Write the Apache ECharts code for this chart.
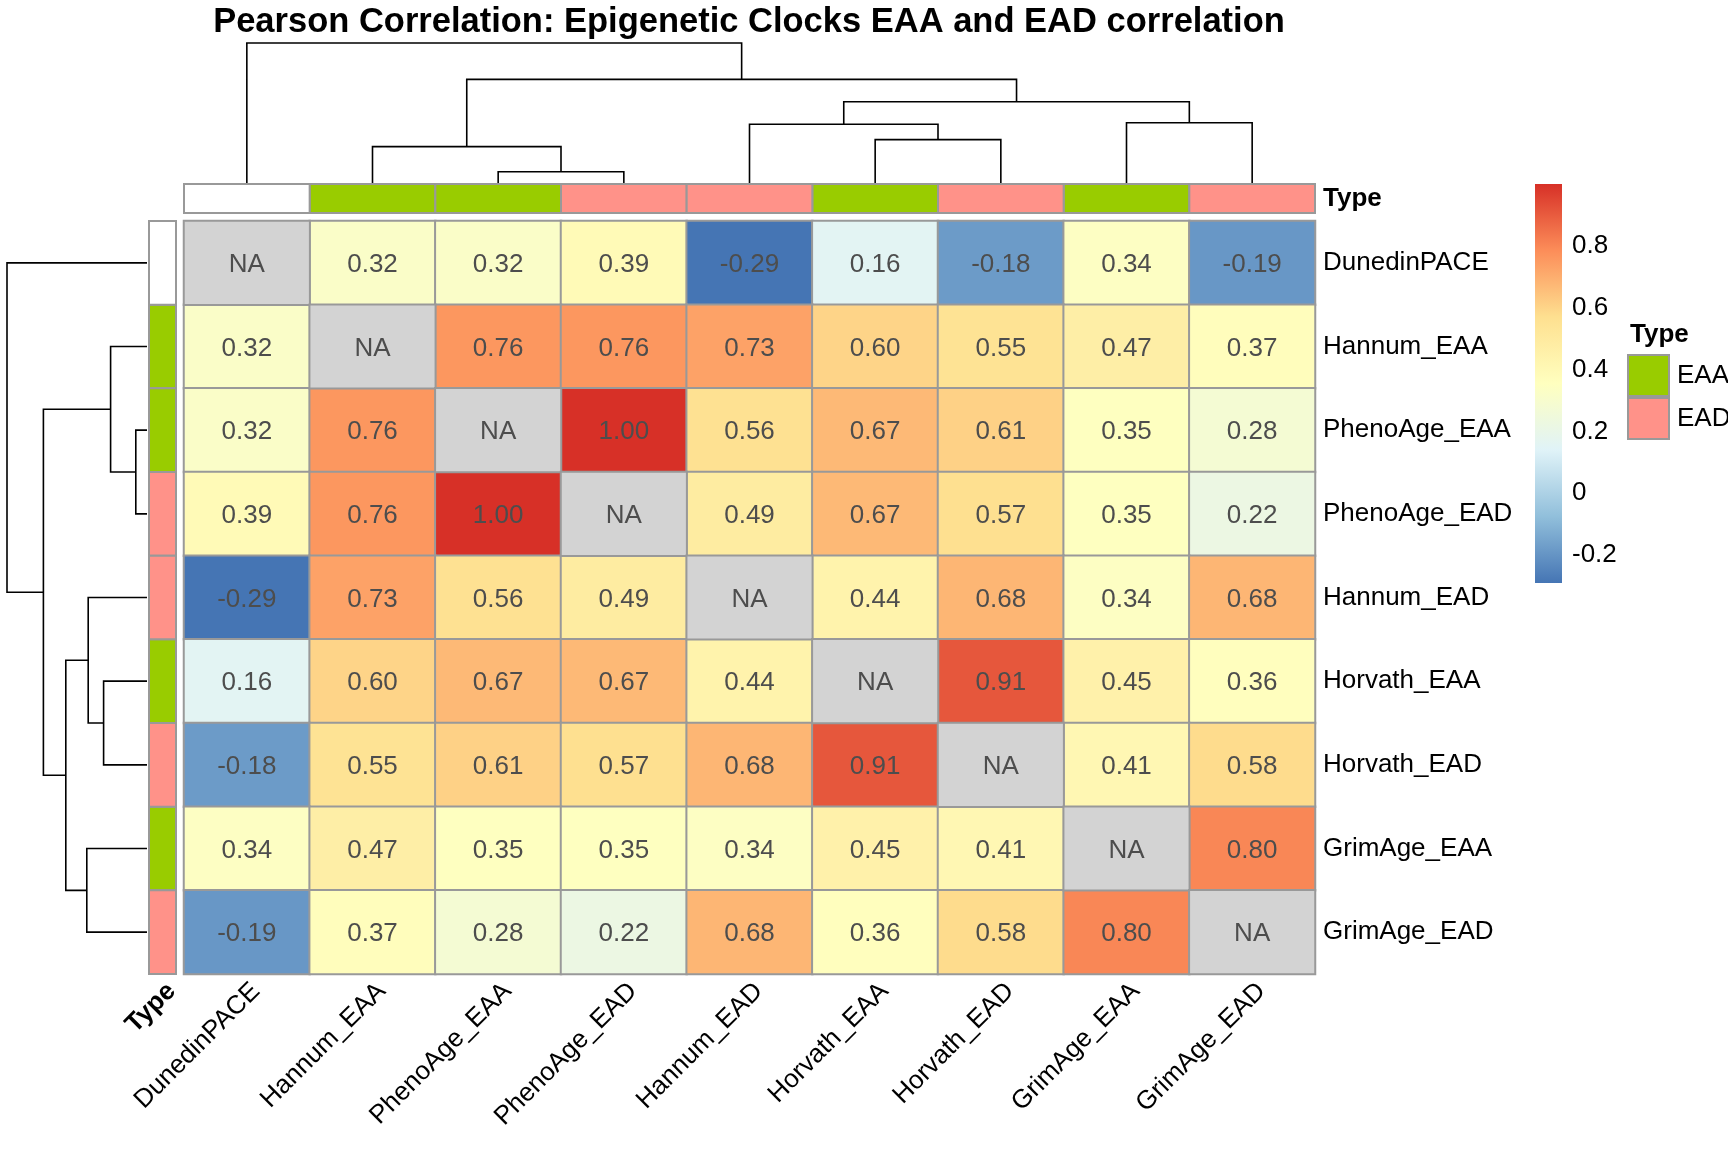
<!DOCTYPE html>
<html>
<head>
<meta charset="utf-8">
<title>Pearson Correlation: Epigenetic Clocks EAA and EAD correlation</title>
<script src="https://cdn.jsdelivr.net/npm/echarts@6/dist/echarts.min.js"></script>
<style>
    html, body { margin: 0; padding: 0; background: #fff; }
    #chart { width: 1728px; height: 1152px; }
</style>
</head>
<body>
<div id="chart"></div>
<script>
    // clocks in clustered order (rows and columns share it)
    const clocks = ['DunedinPACE', 'Hannum_EAA', 'PhenoAge_EAA', 'PhenoAge_EAD', 'Hannum_EAD', 'Horvath_EAA', 'Horvath_EAD', 'GrimAge_EAA', 'GrimAge_EAD']
    const clockType = [null, 'EAA', 'EAA', 'EAD', 'EAD', 'EAA', 'EAD', 'EAA', 'EAD']

    // pearson r, null = NA
    const corr = [
        [null, 0.32, 0.32, 0.39, -0.29, 0.16, -0.18, 0.34, -0.19],
        [0.32, null, 0.76, 0.76, 0.73, 0.60, 0.55, 0.47, 0.37],
        [0.32, 0.76, null, 1.00, 0.56, 0.67, 0.61, 0.35, 0.28],
        [0.39, 0.76, 1.00, null, 0.49, 0.67, 0.57, 0.35, 0.22],
        [-0.29, 0.73, 0.56, 0.49, null, 0.44, 0.68, 0.34, 0.68],
        [0.16, 0.60, 0.67, 0.67, 0.44, null, 0.91, 0.45, 0.36],
        [-0.18, 0.55, 0.61, 0.57, 0.68, 0.91, null, 0.41, 0.58],
        [0.34, 0.47, 0.35, 0.35, 0.34, 0.45, 0.41, null, 0.80],
        [-0.19, 0.37, 0.28, 0.22, 0.68, 0.36, 0.58, 0.80, null]
    ]

    // hclust style merges: negative = leaf (1-based), positive = earlier merge
    const merges = [[-3, -4], [-2, 1], [-6, -7], [-5, 3], [-8, -9], [4, 5], [2, 6], [-1, 7]]
    const mergeHeights = [0.08, 0.26, 0.31, 0.42, 0.43, 0.58, 0.74, 1.0]

    const colorMin = -0.29
    const colorMax = 1.0
    const colorTicks = [-0.2, 0, 0.2, 0.4, 0.6, 0.8]
    const rampColors = ['#4575B4', '#91BFDB', '#E0F3F8', '#FFFFBF', '#FEE090', '#FC8D59', '#D73027']
    const typeColors = { EAA: '#99CC00', EAD: '#FF9289' }

    const FONT = '"Liberation Sans", Arial, Helvetica, sans-serif'
    const GRID_LINE = '#999999'

    // heatmap cells
    const cells = []
    const naCells = []
    corr.forEach((row, yi) => {
        row.forEach((v, xi) => {
            if (v === null) naCells.push([xi, yi, 0])
            else cells.push([xi, yi, v])
        })
    })

    // dendrogram segments from the merge table
    const nodes = []
    const dendroSegs = merges.map((m, i) => {
        const kids = m.map(c => c < 0 ? { x: -c - 1 + 0.5, h: 0 } : nodes[c - 1])
        nodes.push({ x: (kids[0].x + kids[1].x) / 2, h: mergeHeights[i] })
        return [kids[0].x, kids[1].x, kids[0].h, kids[1].h, mergeHeights[i]]
    })

    function typeData (type, horizontal) {
        const out = []
        clockType.forEach((t, i) => {
            if (t === type) out.push(horizontal ? [i, 0] : [0, i])
        })
        return out
    }

    function renderTypeCell (params, api) {
        const c = api.coord([api.value(0), api.value(1)])
        const s = api.size([1, 1])
        return {
            type: 'rect',
            shape: { x: c[0] - s[0] / 2, y: c[1] - s[1] / 2, width: s[0], height: s[1] },
            style: { fill: api.visual('color'), stroke: GRID_LINE, lineWidth: 2 }
        }
    }

    function dendroRenderer (swap) {
        return function (params, api) {
            const pt = (pos, h) => api.coord(swap ? [h, pos] : [pos, h])
            const xl = api.value(0), xr = api.value(1)
            const hl = api.value(2), hr = api.value(3), h = api.value(4)
            return {
                type: 'polyline',
                shape: { points: [pt(xl, hl), pt(xl, h), pt(xr, h), pt(xr, hr)] },
                style: { stroke: '#000', lineWidth: 1.6, fill: null }
            }
        }
    }

    function renderColorbar (params, api) {
        const top = api.coord([0, api.value(2)])
        const bottom = api.coord([0, api.value(1)])
        const w = api.size([1, 0])[0]
        const stops = rampColors.map((c, i) => ({ offset: i / (rampColors.length - 1), color: c }))
        return {
            type: 'rect',
            shape: { x: top[0] - w / 2, y: top[1], width: w, height: bottom[1] - top[1] },
            style: { fill: new echarts.graphic.LinearGradient(0, 1, 0, 0, stops) }
        }
    }

    const hidden = { show: false }
    const rotLabel = {
        rotate: 45,
        align: 'right',
        verticalAlign: 'top',
        margin: 4,
        fontSize: 26,
        color: '#000'
    }

    const chart = echarts.init(document.getElementById('chart'))
    chart.setOption({
        animation: false,
        textStyle: { fontFamily: FONT },
        title: {
            text: 'Pearson Correlation: Epigenetic Clocks EAA and EAD correlation',
            left: 744,
            textAlign: 'center',
            top: 0,
            textStyle: { fontSize: 34.5, fontWeight: 'bold', color: '#000', fontFamily: FONT }
        },
        legend: {
            data: ['EAA', 'EAD'],
            orient: 'vertical',
            left: 1627,
            top: 354,
            padding: 0,
            itemGap: 0,
            itemWidth: 41,
            itemHeight: 41,
            icon: 'rect',
            selectedMode: false,
            itemStyle: { borderColor: GRID_LINE, borderWidth: 2 },
            textStyle: { fontSize: 26, color: '#000', fontFamily: FONT, padding: [4, 0, 0, 3] }
        },
        graphic: [{
            type: 'text',
            left: 1630,
            top: 322,
            style: { text: 'Type', fontSize: 26, fontWeight: 'bold', fill: '#000', fontFamily: FONT }
        }],
        visualMap: [{
            show: false,
            seriesIndex: 0,
            min: colorMin,
            max: colorMax,
            inRange: { color: rampColors }
        }, {
            show: false,
            seriesIndex: 1,
            min: 0,
            max: 1,
            inRange: { color: ['#D3D3D3', '#D3D3D3'] }
        }],
        grid: [
            { left: 184, top: 221, width: 1131, height: 753 },
            { left: 184, top: 184, width: 1131, height: 29 },
            { left: 149, top: 221, width: 27, height: 753 },
            { left: 184, top: 43, width: 1131, height: 140 },
            { left: 7, top: 221, width: 140, height: 753 },
            { left: 1535, top: 184, width: 27, height: 399 }
        ],
        xAxis: [
            {
                gridIndex: 0, type: 'category', data: clocks,
                axisLine: hidden, axisTick: hidden, splitLine: hidden,
                axisLabel: Object.assign({ interval: 0 }, rotLabel)
            },
            { gridIndex: 1, type: 'category', data: clocks, show: false },
            {
                gridIndex: 2, type: 'category', data: ['Type'],
                axisLine: hidden, axisTick: hidden,
                axisLabel: Object.assign({ fontWeight: 'bold' }, rotLabel)
            },
            { gridIndex: 3, type: 'value', min: 0, max: clocks.length, show: false },
            { gridIndex: 4, type: 'value', min: 0, max: 1, inverse: true, show: false },
            { gridIndex: 5, type: 'category', data: [''], show: false }
        ],
        yAxis: [
            {
                gridIndex: 0, type: 'category', data: clocks, inverse: true, position: 'right',
                axisLine: hidden, axisTick: hidden, splitLine: hidden,
                axisLabel: { interval: 0, margin: 8, fontSize: 26, color: '#000', padding: [4, 0, 0, 0] }
            },
            {
                gridIndex: 1, type: 'category', data: ['Type'], position: 'right',
                axisLine: hidden, axisTick: hidden,
                axisLabel: { margin: 8, fontSize: 26, fontWeight: 'bold', color: '#000', padding: [4, 0, 0, 0] }
            },
            { gridIndex: 2, type: 'category', data: clocks, inverse: true, show: false },
            { gridIndex: 3, type: 'value', min: 0, max: 1, show: false },
            { gridIndex: 4, type: 'value', min: 0, max: clocks.length, inverse: true, show: false },
            {
                gridIndex: 5, type: 'value', min: colorMin, max: colorMax, position: 'right',
                axisLine: hidden, axisTick: hidden, splitLine: hidden,
                axisLabel: { customValues: colorTicks, margin: 10, fontSize: 26, color: '#000', padding: [2, 0, 0, 0] }
            }
        ],
        series: [
            {
                name: 'r',
                type: 'heatmap',
                xAxisIndex: 0,
                yAxisIndex: 0,
                data: cells,
                itemStyle: { borderColor: GRID_LINE, borderWidth: 2 },
                label: {
                    show: true,
                    formatter: p => p.value[2].toFixed(2),
                    fontSize: 26,
                    color: '#4D4D4D',
                    offset: [0, 2]
                },
                emphasis: { disabled: true }
            },
            {
                name: 'NA',
                type: 'heatmap',
                xAxisIndex: 0,
                yAxisIndex: 0,
                data: naCells,
                itemStyle: { borderColor: GRID_LINE, borderWidth: 2 },
                label: { show: true, formatter: 'NA', fontSize: 26, color: '#4D4D4D', offset: [0, 2] },
                emphasis: { disabled: true }
            },
            {
                name: 'EAA', type: 'custom', xAxisIndex: 1, yAxisIndex: 1,
                itemStyle: { color: typeColors.EAA }, data: typeData('EAA', true), renderItem: renderTypeCell
            },
            {
                name: 'EAD', type: 'custom', xAxisIndex: 1, yAxisIndex: 1,
                itemStyle: { color: typeColors.EAD }, data: typeData('EAD', true), renderItem: renderTypeCell
            },
            {
                name: 'noType', type: 'custom', xAxisIndex: 1, yAxisIndex: 1,
                itemStyle: { color: '#FFFFFF' }, data: typeData(null, true), renderItem: renderTypeCell
            },
            {
                name: 'EAA', type: 'custom', xAxisIndex: 2, yAxisIndex: 2,
                itemStyle: { color: typeColors.EAA }, data: typeData('EAA', false), renderItem: renderTypeCell
            },
            {
                name: 'EAD', type: 'custom', xAxisIndex: 2, yAxisIndex: 2,
                itemStyle: { color: typeColors.EAD }, data: typeData('EAD', false), renderItem: renderTypeCell
            },
            {
                name: 'noType', type: 'custom', xAxisIndex: 2, yAxisIndex: 2,
                itemStyle: { color: '#FFFFFF' }, data: typeData(null, false), renderItem: renderTypeCell
            },
            {
                name: 'colDendro', type: 'custom', xAxisIndex: 3, yAxisIndex: 3,
                data: dendroSegs, renderItem: dendroRenderer(false), silent: true
            },
            {
                name: 'rowDendro', type: 'custom', xAxisIndex: 4, yAxisIndex: 4,
                data: dendroSegs, renderItem: dendroRenderer(true), silent: true
            },
            {
                name: 'colorbar', type: 'custom', xAxisIndex: 5, yAxisIndex: 5,
                data: [[0, colorMin, colorMax]], renderItem: renderColorbar, silent: true
            }
        ]
    })
</script>
</body>
</html>
